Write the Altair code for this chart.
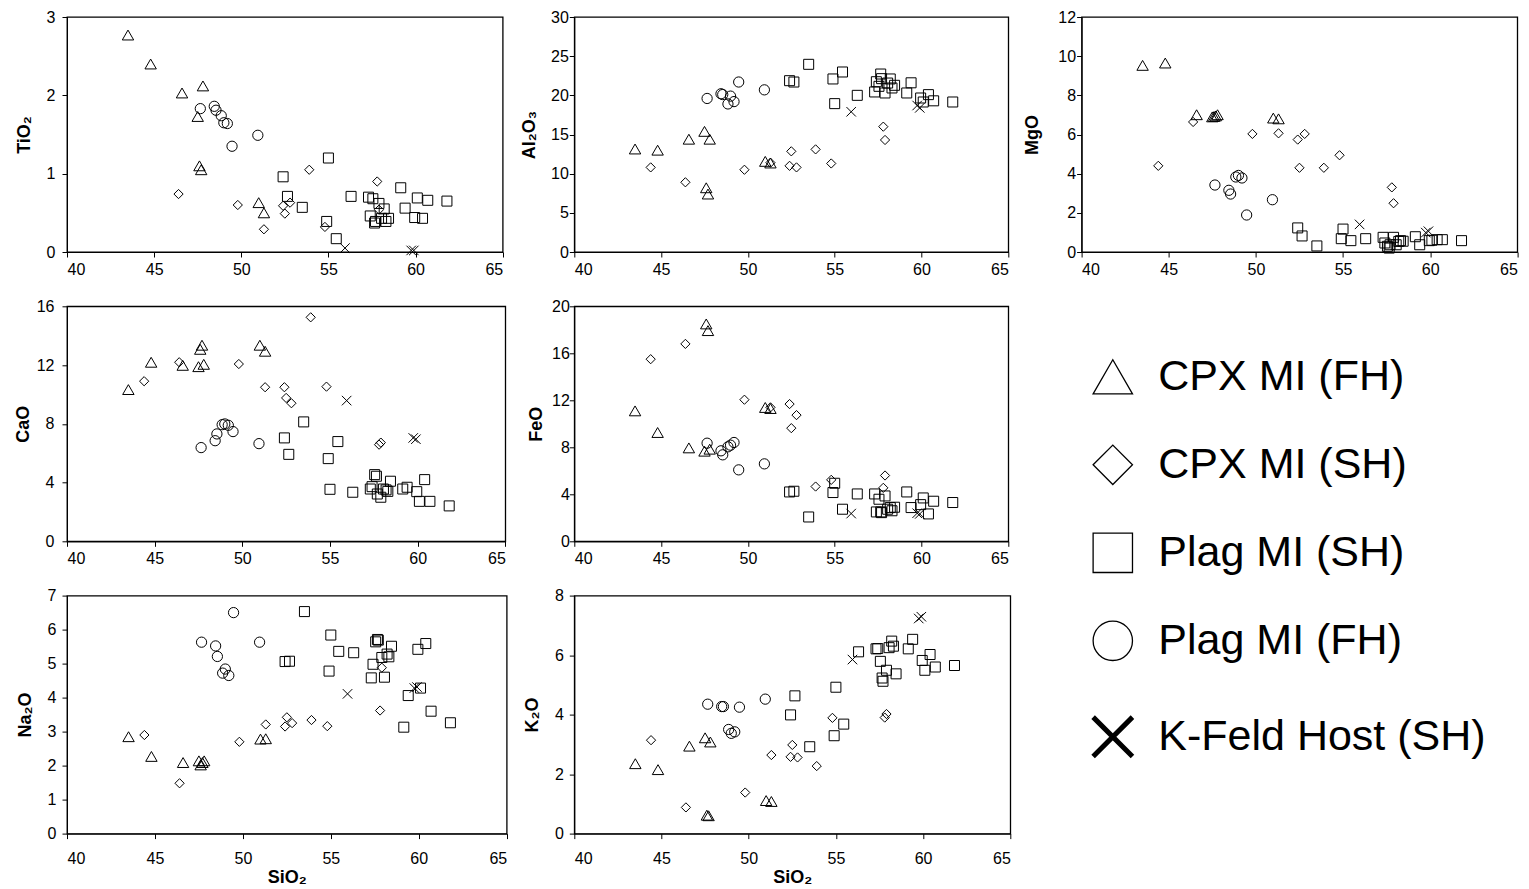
import altair as alt
import pandas as pd

series_names = ["CPX MI (FH)", "CPX MI (SH)", "Plag MI (SH)", "Plag MI (FH)", "K-Feld Host (SH)"]
series_shapes = ["triangle-up", "diamond", "square", "circle", "M-1,-1L1,1M1,-1L-1,1"]
series_sizes = [130, 85, 100, 105, 90]

# CPX MI (FH) - triangles
tri_SiO2 = [43.5, 44.8, 46.6, 47.5, 47.6, 47.7, 47.8, 51.0, 51.3]
tri_TiO2 = [2.77, 2.40, 2.03, 1.73, 1.10, 1.05, 2.12, 0.63, 0.50]
tri_Al2O3 = [13.15, 13.0, 14.4, 15.4, 8.2, 7.4, 14.4, 11.57, 11.36]
tri_MgO = [9.53, 9.65, 7.01, 6.90, 6.92, 6.95, 7.01, 6.84, 6.80]
tri_CaO = [10.33, 12.19, 11.98, 11.89, 13.07, 13.35, 12.05, 13.35, 12.94]
tri_FeO = [11.1, 9.26, 7.95, 7.67, 18.5, 17.93, 7.84, 11.39, 11.3]
tri_Na2O = [2.85, 2.27, 2.09, 2.14, 2.02, 2.09, 2.14, 2.78, 2.79]
tri_K2O = [2.35, 2.15, 2.94, 3.22, 0.62, 0.60, 3.08, 1.11, 1.08]

# CPX MI (SH) - diamonds
dia_SiO2 = [44.4, 46.4, 49.8, 51.3, 52.4, 52.5, 52.8, 53.9, 54.8, 57.8, 57.9]
dia_TiO2 = [None, 0.74, 0.60, 0.29, 0.59, 0.49, 0.63, 1.05, 0.32, 0.90, 0.54]
dia_Al2O3 = [10.8, 8.9, 10.5, 11.4, 11.0, 12.85, 10.8, 13.1, 11.3, 16.0, 14.3]
dia_MgO = [4.4, 6.64, 6.03, 6.06, 5.74, 4.3, 6.03, 4.3, 4.94, 3.3, 2.49]
dia_CaO = [10.9, 12.19, 12.07, 10.49, 10.49, 9.76, 9.4, 15.25, 10.53, 6.58, 6.72]
dia_FeO = [15.5, 16.8, 12.05, 11.4, 11.68, 9.63, 10.74, 4.66, 5.23, 4.55, 5.6]
dia_Na2O = [2.9, 1.48, 2.7, 3.21, 3.15, 3.42, 3.25, 3.34, 3.16, 3.62, 4.88]
dia_K2O = [3.14, 0.88, 1.38, 2.64, 2.58, 2.98, 2.56, 2.27, 3.89, 3.9, 4.02]

# Plag MI (SH) - squares
sq_SiO2 = [52.4, 52.65, 53.5, 54.9, 55.0, 55.45, 56.3, 57.3, 57.4, 57.55, 57.65, 57.7,
           57.9, 58.05, 58.2, 58.3, 58.45, 59.15, 59.4, 59.95, 60.1, 60.4, 60.7, 61.8]
sq_TiO2 = [0.96, 0.71, 0.57, 0.39, 1.20, 0.17, 0.71, 0.70, 0.46, 0.68, 0.37, 0.39,
           0.62, 0.43, 0.55, 0.39, 0.43, 0.82, 0.56, 0.44, 0.69, 0.43, 0.66, 0.65]
sq_Al2O3 = [21.87, 21.7, 23.96, 22.09, 18.94, 22.98, 20.0, 20.43, 21.74, 21.15, 22.72, 22.13,
            20.3, 21.57, 22.09, 20.94, 21.28, 20.3, 21.6, 19.66, 19.15, 20.09, 19.3, 19.15]
sq_MgO = [1.23, 0.82, 0.31, 0.68, 1.17, 0.58, 0.68, 0.75, 0.46, 0.29, 0.20, 0.37,
          0.75, 0.37, 0.54, 0.58, 0.55, 0.78, 0.37, 0.58, 0.60, 0.63, 0.63, 0.58]
sq_CaO = [7.04, 5.92, 8.13, 5.63, 3.54, 6.79, 3.34, 3.56, 3.72, 4.54, 4.43, 3.22,
          3.00, 3.56, 3.50, 3.40, 4.09, 3.56, 3.68, 3.38, 2.72, 4.20, 2.72, 2.41]
sq_FeO = [4.20, 4.26, 2.07, 4.15, 4.94, 2.73, 4.03, 4.03, 2.50, 3.58, 2.50, 2.44,
          3.86, 2.73, 2.87, 2.60, 2.90, 4.20, 2.87, 3.12, 3.69, 2.33, 3.41, 3.30]
sq_Na2O = [5.06, 5.07, 6.53, 4.78, 5.84, 5.36, 5.32, 4.58, 4.98, 5.64, 5.71, 5.69,
           5.18, 4.60, 5.28, 5.20, 5.51, 3.13, 4.06, 5.42, 4.28, 5.59, 3.60, 3.26]
sq_K2O = [3.99, 4.63, 2.92, 3.29, 4.92, 3.68, 6.11, 6.21, 6.22, 5.79, 5.23, 5.12,
          5.49, 6.25, 6.47, 6.30, 5.37, 6.21, 6.53, 5.82, 5.49, 6.02, 5.60, 5.65]

# Plag MI (FH) - circles
cir_SiO2 = [47.65, 48.45, 48.55, 48.85, 49.0, 49.2, 49.47, 50.95]
cir_TiO2 = [1.83, 1.86, 1.81, 1.74, 1.65, 1.64, 1.35, 1.49]
cir_Al2O3 = [19.6, 20.2, 20.1, 18.9, 19.9, 19.2, 21.7, 20.7]
cir_MgO = [3.42, 3.15, 2.96, 3.83, 3.91, 3.78, 1.89, 2.67]
cir_CaO = [6.38, 6.85, 7.31, 7.94, 7.99, 7.90, 7.47, 6.65]
cir_FeO = [8.35, 7.70, 7.36, 8.04, 8.18, 8.41, 6.08, 6.59]
cir_Na2O = [5.63, 5.52, 5.21, 4.72, 4.84, 4.65, 6.50, 5.63]
cir_K2O = [4.35, 4.27, 4.27, 3.50, 3.37, 3.42, 4.25, 4.52]

# K-Feld Host (SH) - crosses
kf_SiO2 = [55.95, 59.75, 59.9]
kf_TiO2 = [0.05, 0.02, 0.02]
kf_Al2O3 = [17.9, 18.7, 18.4]
kf_MgO = [1.41, 0.99, 1.06]
kf_CaO = [9.58, 7.04, 6.95]
kf_FeO = [2.36, 2.39, 2.33]
kf_Na2O = [4.11, 4.28, 4.31]
kf_K2O = [5.85, 7.23, 7.29]

oxides = ["TiO2", "Al2O3", "MgO", "CaO", "FeO", "Na2O", "K2O"]
groups = [
    (series_names[0], tri_SiO2, [tri_TiO2, tri_Al2O3, tri_MgO, tri_CaO, tri_FeO, tri_Na2O, tri_K2O]),
    (series_names[1], dia_SiO2, [dia_TiO2, dia_Al2O3, dia_MgO, dia_CaO, dia_FeO, dia_Na2O, dia_K2O]),
    (series_names[2], sq_SiO2, [sq_TiO2, sq_Al2O3, sq_MgO, sq_CaO, sq_FeO, sq_Na2O, sq_K2O]),
    (series_names[3], cir_SiO2, [cir_TiO2, cir_Al2O3, cir_MgO, cir_CaO, cir_FeO, cir_Na2O, cir_K2O]),
    (series_names[4], kf_SiO2, [kf_TiO2, kf_Al2O3, kf_MgO, kf_CaO, kf_FeO, kf_Na2O, kf_K2O]),
]
rows = []
for name, si, vals in groups:
    for i, x in enumerate(si):
        r = {"series": name, "SiO2": x}
        for ox, arr in zip(oxides, vals):
            r[ox] = arr[i]
        rows.append(r)
df = pd.DataFrame(rows)

X_TICKS = [40, 45, 50, 55, 60, 65]
FONT = "Liberation Sans"

big_legend = alt.Legend(
    title=None, orient="none", legendX=517, legendY=49,
    labelFontSize=43, labelFont=FONT, labelColor="black", labelLimit=600,
    labelOffset=24, symbolSize=1550, symbolStrokeColor="black",
    symbolFillColor="transparent",
    symbolStrokeWidth={"expr": "datum.value == 'K-Feld Host (SH)' ? 5 : 1.3"},
    rowPadding=43, padding=0,
)


def panel(col, title, ymax, step, w, h, label_pad, title_x, bottom, with_legend=False):
    xa = dict(values=X_TICKS, tickSize=5, labelPadding=12 if bottom else 4)
    if bottom:
        xa["title"] = "SiO₂"
        xa["titlePadding"] = 2
    else:
        xa["title"] = None
    ya = dict(values=list(range(0, ymax + 1, step)), title=title, tickSize=5,
              labelPadding=label_pad, titleX=title_x, titleY=h / 2,
              titleBaseline="alphabetic", titleAlign="center")
    layers = []
    for name, sz in zip(series_names, series_sizes):
        layers.append(
            alt.Chart(df).transform_filter(alt.datum.series == name)
            .mark_point(filled=False, color="black", strokeWidth=1, opacity=1, size=sz)
            .encode(
                x=alt.X("SiO2:Q", scale=alt.Scale(domain=[40, 65], nice=False, zero=False), axis=alt.Axis(**xa)),
                y=alt.Y(f"{col}:Q", scale=alt.Scale(domain=[0, ymax], nice=False), axis=alt.Axis(**ya)),
                shape=alt.Shape("series:N", scale=alt.Scale(domain=series_names, range=series_shapes),
                                legend=big_legend if with_legend else None),
            )
        )
    return alt.layer(*layers).properties(width=w, height=h)


p_ti = panel("TiO2", "TiO₂", 3, 1, 435.7, 235, 7, -38, False)
p_al = panel("Al2O3", "Al₂O₃", 30, 5, 434, 235, 1, -40, False)
p_mg = panel("MgO", "MgO", 12, 2, 435.7, 235, 1, -44, False)
p_ca = panel("CaO", "CaO", 16, 4, 438.3, 235, 8, -39, False)
p_fe = panel("FeO", "FeO", 20, 4, 434, 235, 0, -33, False, with_legend=True)
p_na = panel("Na2O", "Na₂O", 7, 1, 439.7, 238, 6, -37, True)
p_k = panel("K2O", "K₂O", 8, 2, 436, 238, 6, -37, True)

blank = alt.Chart(pd.DataFrame({"a": [0]})).mark_point(opacity=0).encode(
    x=alt.X("a:Q", axis=None), y=alt.Y("a:Q", axis=None)
).properties(width=10, height=10, view=alt.ViewBackground(stroke="transparent"))

chart = alt.concat(
    p_ti, p_al, p_mg, p_ca, p_fe, blank, p_na, p_k,
    columns=3, spacing={"row": 51.3, "column": 67.3}, bounds="flush", align="all",
).resolve_scale(shape="independent").properties(
    padding={"left": 13, "top": 8, "right": 0, "bottom": 0}
).configure(font=FONT).configure_axis(
    labelFont=FONT, labelFontSize=16, labelColor="black",
    titleFont=FONT, titleFontSize=18, titleFontWeight="bold", titleColor="black",
    domainColor="black", domainWidth=1, tickColor="black", tickWidth=1, grid=False,
).configure_view(stroke="black", strokeWidth=1.3)

chart.save("out.html", embed_options={"renderer": "svg", "actions": False})
